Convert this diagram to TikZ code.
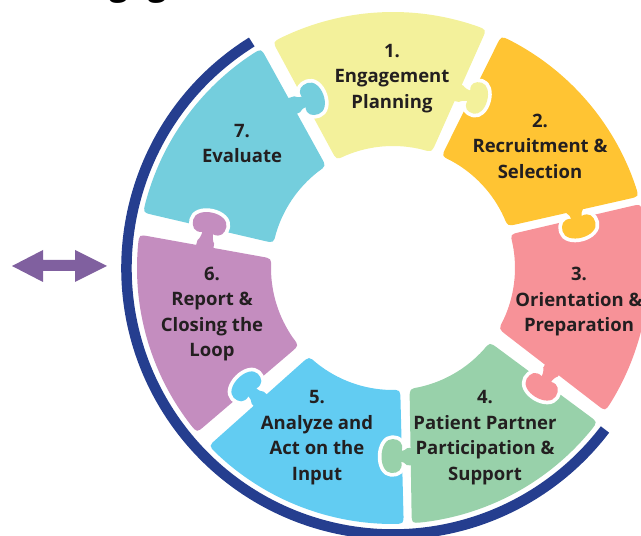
\documentclass[tikz,border=0pt]{standalone}
\usepackage{fontspec}
\setmainfont{Open Sans}
\usetikzlibrary{calc}
\definecolor{cOne}{HTML}{F3F19B}
\definecolor{cTwo}{HTML}{FFC433}
\definecolor{cThree}{HTML}{F79298}
\definecolor{cFour}{HTML}{98D1AA}
\definecolor{cFive}{HTML}{62CCF2}
\definecolor{cSix}{HTML}{C48DBF}
\definecolor{cSeven}{HTML}{74CEDD}
\definecolor{cRing}{HTML}{253E8F}
\definecolor{cArrow}{HTML}{80609F}
\definecolor{cInk}{HTML}{231F20}
\tikzset{
  label text/.style={inner sep=0pt,outer sep=0pt,align=center,text=cInk,
    font=\fontsize{18.5}{25.5}\selectfont\bfseries},
}
% sector piece: colour, A, B (outer angles), D, E (inner angles)
\newcommand{\puzzlepiece}[5]{%
  \pgfmathsetmacro{\aS}{#2-2.2}\pgfmathsetmacro{\aT}{#3+2.2}%
  \pgfmathsetmacro{\bS}{#4+4.6}\pgfmathsetmacro{\bT}{#5-4.6}%
  \fill[#1] (\aS:256) arc[start angle=\aS,end angle=\aT,radius=256]
    .. controls (#3:256) .. ($(#3:256)!10pt!(#4:122)$)
    -- ($(#4:122)!10pt!(#3:256)$)
    .. controls (#4:122) .. (\bS:122)
    arc[start angle=\bS,end angle=\bT,radius=122]
    .. controls (#5:122) .. ($(#5:122)!10pt!(#2:256)$)
    -- ($(#2:256)!10pt!(#5:122)$)
    .. controls (#2:256) .. cycle;}
% tab path in local coordinates: c = head centre, a = half depth, b = half width
\newcommand{\tabshape}[3]{%
  (-9,-9) -- (-1,-8.5)
  .. controls (1,-6.5) and ({#1-#2-1},-5.5) .. ({#1-#2+1},-5.5)
  .. controls ({#1-#2-1},{-0.8*#3}) and ({#1-0.6*#2},-#3) .. (#1,-#3)
  .. controls ({#1+0.6*#2},-#3) and ({#1+#2},{-0.55*#3}) .. ({#1+#2},0)
  .. controls ({#1+#2},{0.55*#3}) and ({#1+0.6*#2},#3) .. (#1,#3)
  .. controls ({#1-0.6*#2},#3) and ({#1-#2-1},{0.8*#3}) .. ({#1-#2+1},5.5)
  .. controls ({#1-#2-1},5.5) and (1,6.5) .. (-1,8.5) -- (-9,9) -- cycle}
% colour, base x, base y (pixels, y already flipped), normal angle, c, a, b
\newcommand{\puzzletab}[7]{%
  \begin{scope}[shift={(#2,#3)},rotate=#4]
    \clip (0,-40) rectangle (60,40);
    \draw[white,line width=7.5pt,line join=round] \tabshape{#5}{#6}{#7};
  \end{scope}
  \begin{scope}[shift={(#2,#3)},rotate=#4]
    \fill[#1] \tabshape{#5}{#6}{#7};
  \end{scope}}
\begin{document}
\begin{tikzpicture}[x=1pt,y=1pt]
\useasboundingbox (0,0) rectangle (641,536);
\clip (0,0) rectangle (641,536);
\node[anchor=south,inner sep=0pt,outer sep=0pt,font=\fontsize{33}{33}\selectfont\bfseries,text=black] (titlecut) at (138,533) {gag};
\begin{scope}[shift={(393,268)}]
  \draw[cRing,line width=10.5pt] (122:266.5) arc[start angle=122,end angle=322.7,radius=266.5];
  \puzzlepiece{cOne}{118}{68.6}{71.5}{117.6}
  \puzzlepiece{cTwo}{65}{16.2}{20}{66.5}
  \puzzlepiece{cThree}{14.5}{-34}{-30}{16}
  \puzzlepiece{cFour}{-37}{-85.8}{-82.2}{-37.5}
  \puzzlepiece{cFive}{-87.6}{-136}{-133.5}{-86.6}
  \puzzlepiece{cSix}{220}{172.5}{175.5}{219.5}
  \puzzlepiece{cSeven}{167.5}{121}{123.3}{168.2}
\end{scope}
% tabs: x, 536-y, normal angle, head centre, half depth, half width
\puzzletab{cSeven}{298}{432}{20}{16}{11}{16.5}
\puzzletab{cOne}{462}{442}{-15}{16}{10}{16}
\puzzletab{cTwo}{575}{324}{-75}{15.5}{11}{17}
\puzzletab{cThree}{550}{163}{-121}{17}{11}{17}
\puzzletab{cFour}{406}{79.5}{178}{14}{10.5}{17}
\puzzletab{cFive}{257}{139}{135}{16}{10.5}{17}
\puzzletab{cSix}{206}{295}{78}{18}{11}{17}
% double arrow
\fill[cArrow] (12,270) -- (43,286) -- (43,276) -- (75,276) -- (75,286) -- (107,270)
  -- (75,254) -- (75,265) -- (43,265) -- (43,254) -- cycle;
\node[label text] (one)   at (392,457.5) {1.\\Engagement\\Planning};
\node[label text] (two)   at (540,390)   {2.\\Recruitment \&\\Selection};
\node[label text] (three) at (579,234)   {3.\\Orientation \&\\Preparation};
\node[label text] (four)  at (485,98.5)  {4.\\Patient Partner\\Participation \&\\Support};
\node[label text] (five)  at (317,98.5)  {5.\\Analyze and\\Act on the\\Input};
\node[label text] (six)   at (212,222)   {6.\\Report \&\\Closing the\\Loop};
\node[label text] (seven) at (242,392.5) {7.\\Evaluate};
\end{tikzpicture}
\end{document}
